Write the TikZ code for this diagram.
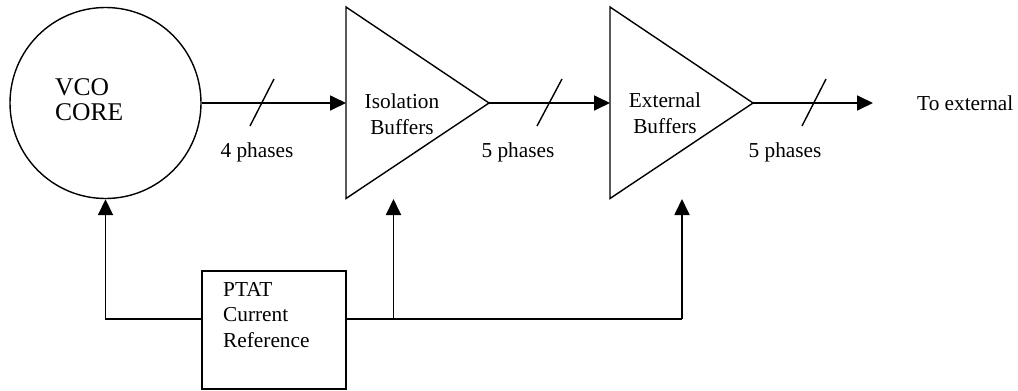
\documentclass[tikz,border=0pt]{standalone}
\usepackage{fontspec}
\setmainfont{Liberation Serif}
\usetikzlibrary{arrows.meta}
\begin{document}
\begin{tikzpicture}[x=1pt,y=-1pt,
  shapeline/.style={line width=1.4pt},
  conn/.style={line width=1.8pt},
  arr/.style={conn,-{Triangle[length=16pt,width=15pt]}},
  slashline/.style={line width=1.4pt},
  lbl/.style={font=\fontsize{21.3}{25.5}\selectfont, inner sep=0pt},
  biglbl/.style={font=\fontsize{25.5}{25}\selectfont, inner sep=0pt, align=left},
  buflbl/.style={font=\fontsize{21.3}{25.5}\selectfont, inner sep=0pt, align=center},
  boxlbl/.style={font=\fontsize{21.3}{25.5}\selectfont, inner sep=0pt, align=left}]
\useasboundingbox (0,0) rectangle (1018,391);

% VCO core
\node[circle, draw, shapeline, minimum size=191pt, inner sep=0pt] (vco) at (105.5,103) {};
\node[biglbl, anchor=west] (vcotext) at (55,100) {VCO\\CORE};

% Isolation buffers triangle
\coordinate (isoin) at (346,103);
\coordinate (isoout) at (489,103);
\draw[shapeline, line join=miter] (346,7) -- (346,198.5) -- (isoout) -- cycle;
\node[buflbl] (isotext) at (402,114) {Isolation\\Buffers};

% External buffers triangle
\coordinate (extin) at (610,103);
\coordinate (extout) at (753,103);
\draw[shapeline, line join=miter] (610,7) -- (610,198.5) -- (extout) -- cycle;
\node[buflbl] (exttext) at (665,113) {External\\Buffers};

% Output
\coordinate (outend) at (873,103);
\node[lbl, anchor=west] (toext) at (917,103) {To external};

% forward arrows
\draw[arr] (vco.east) -- (isoin);
\draw[arr] (isoout) -- (extin);
\draw[arr] (extout) -- (outend);

% bus slashes
\coordinate (s1a) at (250,126); \coordinate (s1b) at (274,79);
\coordinate (s2a) at (537,126); \coordinate (s2b) at (562,79);
\coordinate (s3a) at (802,126); \coordinate (s3b) at (826,79);
\draw[slashline] (s1a) -- (s1b);
\draw[slashline] (s2a) -- (s2b);
\draw[slashline] (s3a) -- (s3b);

\node[lbl] (ph1) at (257,152) {4 phases};
\node[lbl] (ph2) at (518,152) {5 phases};
\node[lbl] (ph3) at (785,152) {5 phases};

% PTAT reference
\node[draw, conn, minimum width=144pt, minimum height=118pt, inner sep=0pt] (ptat) at (274,330) {};
\node[boxlbl, anchor=north west] (ptattext) at (223,282) {PTAT\\Current\\Reference};

\coordinate (pleft) at (202,319);
\coordinate (pright) at (346,319);
\coordinate (cvco) at (105.5,319);
\coordinate (br1) at (393.5,319);
\coordinate (br2) at (682,319);
\coordinate (isobias) at (393.5,199);
\coordinate (extbias) at (682,199);

\draw[arr] (pleft) -- (cvco) -- (vco.south);
\draw[conn] (pright) -- (br2);
\draw[arr] (br1) -- (isobias);
\draw[arr] (br2) -- (extbias);
\end{tikzpicture}
\end{document}
